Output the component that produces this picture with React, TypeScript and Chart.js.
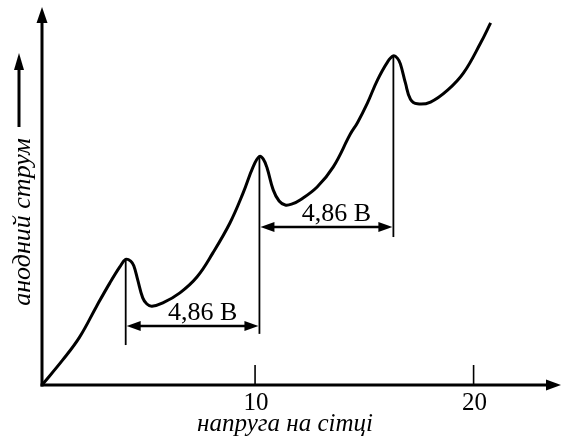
import React, { useEffect, useRef } from "react";
import { Chart, registerables } from "chart.js";

Chart.register(...registerables);

// Franck–Hertz curve: anode current vs. grid voltage (arbitrary current units)
const gridVoltage = [
  0.25, 1.19, 1.97, 2.75, 3.35, 3.81, 4.08, 4.31, 4.45, 4.63, 4.86, 5.05, 5.28, 5.78,
  6.56, 7.34, 8.07, 8.85, 9.45, 9.91, 10.2, 10.37, 10.55, 10.83, 11.1, 11.38,
  11.7, 12.06, 12.84, 13.58, 14.36, 14.68, 15.14, 15.6, 16.06, 16.33, 16.51, 16.65,
  16.88, 17.11, 17.43, 18.03, 18.81, 19.54, 20.32, 20.78,
];
const anodeCurrent = [
  0, 6.9, 13.3, 21.9, 28.3, 32.8, 34.9, 34.4, 33.1, 29.2, 24.2, 22.5, 21.9, 22.8,
  25.6, 30.0, 36.7, 45.0, 53.3, 60.6, 63.5, 62.8, 60.3, 54.2, 51.1, 50.0,
  50.3, 51.4, 55.0, 60.6, 69.7, 72.8, 78.3, 84.7, 89.7, 91.4, 90.8, 89.2,
  83.9, 79.4, 78.1, 78.6, 81.9, 86.7, 95.0, 100.6,
];

const xTicks = [10, 20];
const xRange = [0.25, 24];
const yRange = [0, 105];

// Peaks of the curve and how far down their marker lines reach
const peakVoltages = [4.08, 10.2, 16.33];
const peakMarkerEnds = [11.1, 14.2, 41.1];
// Spacing arrows between neighbouring peaks
const spacingLevels = [16.4, 43.9];
const spacingLabels = ["4,86 В", "4,86 В"];

const xTitle = "напруга на сітці";
const yTitle = "анодний струм";

const SERIF = '"Liberation Serif", "Times New Roman", "DejaVu Serif", serif';

function arrowHead(
  ctx: CanvasRenderingContext2D,
  tx: number,
  ty: number,
  dx: number,
  dy: number,
  len: number,
  half: number
) {
  const bx = tx - dx * len;
  const by = ty - dy * len;
  const nx = -dy;
  const ny = dx;
  ctx.beginPath();
  ctx.moveTo(tx, ty);
  ctx.lineTo(bx + nx * half, by + ny * half);
  ctx.lineTo(bx - nx * half, by - ny * half);
  ctx.closePath();
  ctx.fill();
}

function segment(ctx: CanvasRenderingContext2D, x1: number, y1: number, x2: number, y2: number) {
  ctx.beginPath();
  ctx.moveTo(x1, y1);
  ctx.lineTo(x2, y2);
  ctx.stroke();
}

const decorations = {
  id: "franckHertzDecorations",
  afterDatasetsDraw(chart: any) {
    const { ctx, chartArea: a, scales } = chart;
    const xs = scales.x;
    const ys = scales.y;
    ctx.save();
    ctx.strokeStyle = "#000";
    ctx.fillStyle = "#000";
    ctx.lineCap = "butt";

    // axes with arrowheads
    ctx.lineWidth = 3;
    segment(ctx, a.left, a.bottom + 1.5, a.left, a.top + 12);
    arrowHead(ctx, a.left, a.top, 0, -1, 16, 5.5);
    segment(ctx, a.left - 1.5, a.bottom, a.right - 12, a.bottom);
    arrowHead(ctx, a.right, a.bottom, 1, 0, 15, 5.5);

    // tick marks and labels
    ctx.lineWidth = 1.6;
    ctx.font = `25px ${SERIF}`;
    ctx.textAlign = "center";
    ctx.textBaseline = "alphabetic";
    xTicks.forEach((t) => {
      const px = xs.getPixelForValue(t);
      segment(ctx, px, a.bottom, px, a.bottom - 20);
      ctx.fillText(String(t), px + 1, a.bottom + 25);
    });

    // x title
    ctx.font = `italic 25px ${SERIF}`;
    ctx.fillText(xTitle, 285, 431);

    // y title with its arrow
    ctx.font = `italic 26px ${SERIF}`;
    ctx.save();
    ctx.translate(30, 222);
    ctx.rotate(-Math.PI / 2);
    ctx.fillText(yTitle, 0, 0);
    ctx.restore();
    ctx.lineWidth = 3;
    segment(ctx, 19, 127, 19, 66);
    arrowHead(ctx, 19, 53, 0, -1, 17, 5);

    // vertical markers at the peaks
    ctx.lineWidth = 1.8;
    peakVoltages.forEach((v, i) => {
      const idx = gridVoltage.indexOf(v);
      const px = xs.getPixelForValue(v);
      segment(ctx, px, ys.getPixelForValue(anodeCurrent[idx]), px, ys.getPixelForValue(peakMarkerEnds[i]));
    });

    // spacing arrows between peaks
    ctx.font = `26px ${SERIF}`;
    spacingLevels.forEach((lvl, i) => {
      const x1 = xs.getPixelForValue(peakVoltages[i]);
      const x2 = xs.getPixelForValue(peakVoltages[i + 1]);
      const py = ys.getPixelForValue(lvl);
      ctx.lineWidth = 2.5;
      segment(ctx, x1 + 12, py, x2 - 12, py);
      arrowHead(ctx, x1 + 1, py, -1, 0, 14, 5);
      arrowHead(ctx, x2 - 1, py, 1, 0, 14, 5);
      ctx.fillText(spacingLabels[i], (x1 + x2) / 2 + 10, py - 6);
    });

    ctx.restore();
  },
};

export default function App() {
  const canvasRef = useRef<HTMLCanvasElement | null>(null);

  useEffect(() => {
    const canvas = canvasRef.current;
    if (!canvas) return;
    const points = gridVoltage.map((v, i) => ({ x: v, y: anodeCurrent[i] }));
    const chart = new Chart(canvas, {
      type: "line",
      data: {
        datasets: [
          {
            data: points,
            borderColor: "#000",
            borderWidth: 3,
            pointRadius: 0,
            fill: false,
            tension: 0.4,
            clip: false as any,
          },
        ],
      },
      options: {
        responsive: false,
        animation: false,
        events: [],
        layout: { padding: { left: 42, right: 2, top: 7, bottom: 58 } },
        plugins: { legend: { display: false }, tooltip: { enabled: false } },
        scales: {
          x: { type: "linear", min: xRange[0], max: xRange[1], display: false },
          y: { type: "linear", min: yRange[0], max: yRange[1], display: false },
        },
      },
      plugins: [decorations],
    });
    return () => chart.destroy();
  }, []);

  return (
    <div style={{ position: "fixed", left: 0, top: 0, width: 563, height: 443, background: "#fff" }}>
      <canvas ref={canvasRef} width={563} height={443} />
    </div>
  );
}
